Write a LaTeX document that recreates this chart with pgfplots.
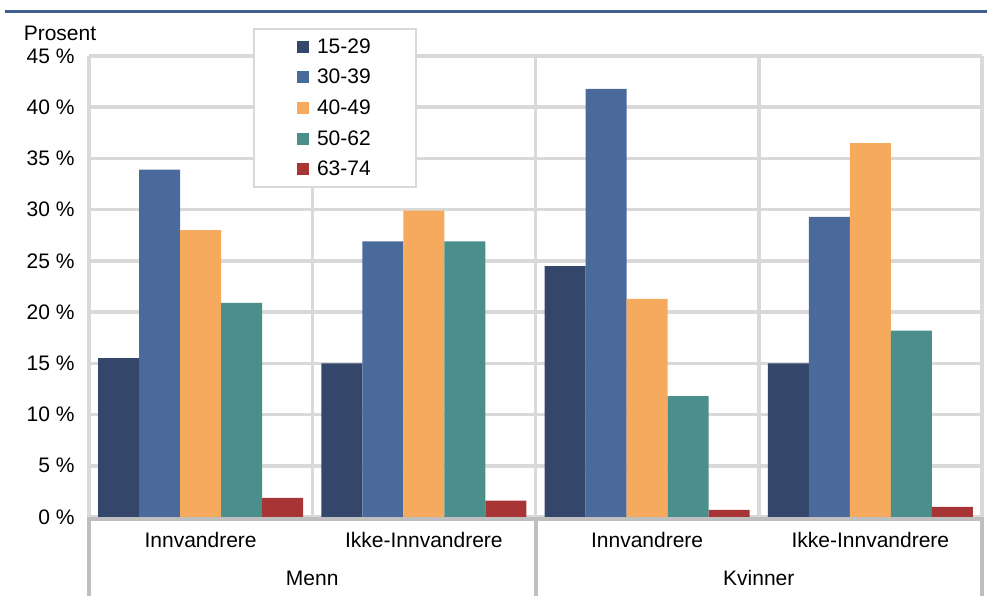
\documentclass[border=0pt]{standalone}
\usepackage{pgfplots}
\pgfplotsset{compat=1.18}
\usepackage{fontspec}
\setmainfont{Liberation Sans}
\definecolor{cA}{HTML}{34466A}
\definecolor{cB}{HTML}{4B6A9C}
\definecolor{cC}{HTML}{F6AA5E}
\definecolor{cD}{HTML}{4A8F8C}
\definecolor{cE}{HTML}{A83536}
\definecolor{gridc}{HTML}{D9D9D9}
\definecolor{axc}{HTML}{BFBFBF}
\definecolor{topblue}{HTML}{41608F}
\begin{document}
\begin{tikzpicture}[font=\fontsize{21}{25}\selectfont]
\path[use as bounding box] (0,0) rectangle (987pt,603pt);
\draw[topblue, line width=3pt] (5pt,591pt) -- (987pt,591pt);
\node at (60pt,570pt) {Prosent};
\begin{axis}[
  at={(89pt,86pt)}, anchor=south west,
  width=893pt, height=461pt, scale only axis,
  ymin=0, ymax=45, xmin=-0.5, xmax=3.5,
  ytick={0,5,...,45},
  xtick={0,1,2,3},
  xticklabels={Innvandrere,Ikke-Innvandrere,Innvandrere,Ikke-Innvandrere},
  minor xtick={-0.5,0.5,1.5,2.5,3.5},
  ymajorgrids, xminorgrids,
  major grid style={gridc, line width=3.5pt},
  minor grid style={gridc, line width=3.5pt},
  axis line style={draw=none},
  tick style={draw=none},
  /pgf/number format/assume math mode=true,
  yticklabel={\pgfmathprintnumber{\tick}~\%},
  yticklabel style={xshift=-11pt},
  xticklabel style={yshift=-7pt},
  ybar=0pt, bar width=41pt,
  clip=false,
  legend style={at={(0.1837,1.0607)}, anchor=north west, draw=gridc, line width=2pt,
    fill=white, inner xsep=43pt, inner ysep=7.5pt, row sep=10.5pt, column sep=6pt,
    font=\fontsize{21}{25}\selectfont},
  legend cell align=left,
  legend image code/.code={\fill[#1] (3pt,-6pt) rectangle (15pt,6pt);},
]
\addplot[fill=cA, draw=none] coordinates {(0,15.5) (1,15.0) (2,24.5) (3,15.0)};
\addplot[fill=cB, draw=none] coordinates {(0,33.9) (1,26.9) (2,41.8) (3,29.3)};
\addplot[fill=cC, draw=none] coordinates {(0,28.0) (1,29.9) (2,21.3) (3,36.5)};
\addplot[fill=cD, draw=none] coordinates {(0,20.9) (1,26.9) (2,11.8) (3,18.2)};
\addplot[fill=cE, draw=none] coordinates {(0,1.86) (1,1.6) (2,0.7) (3,1.0)};
\legend{15-29,30-39,40-49,50-62,63-74}
\draw[axc, line width=4pt] ([yshift=-2pt]axis cs:-0.5,0) -- ([yshift=-2pt]axis cs:3.5,0);
\draw[axc, line width=4pt] (axis cs:-0.5,0) -- ([yshift=-79pt]axis cs:-0.5,0);
\draw[axc, line width=4pt] (axis cs:1.5,0) -- ([yshift=-79pt]axis cs:1.5,0);
\draw[axc, line width=4pt] (axis cs:3.5,0) -- ([yshift=-79pt]axis cs:3.5,0);
\node at ([yshift=-61pt]axis cs:0.5,0) {Menn};
\node at ([yshift=-61pt]axis cs:2.5,0) {Kvinner};
\end{axis}
\end{tikzpicture}
\end{document}
